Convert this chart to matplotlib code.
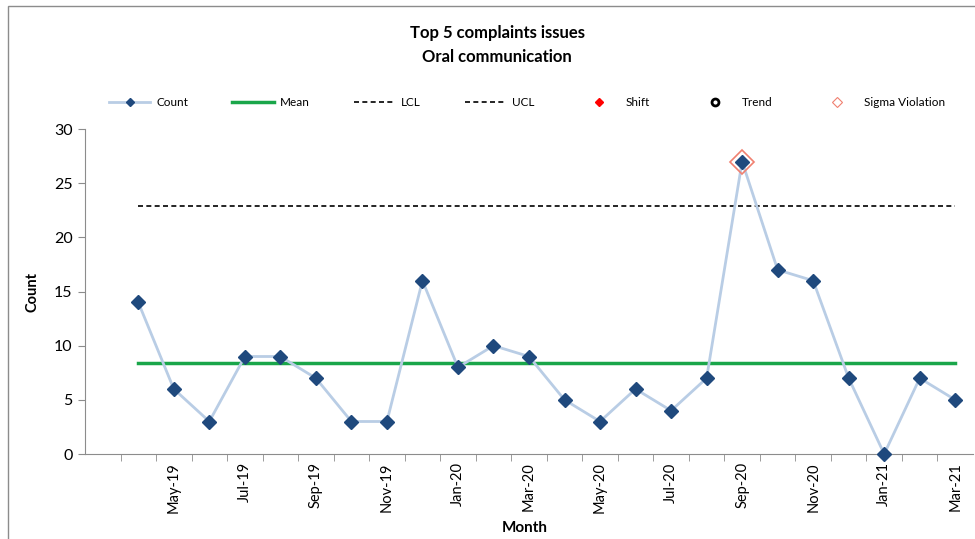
import numpy as np
import matplotlib.pyplot as plt
from matplotlib.lines import Line2D
from matplotlib.patches import Rectangle

plt.rcParams['font.family'] = ['Lato', 'DejaVu Sans']

# monthly counts Apr-19 .. Mar-21 (first category on the axis is empty)
months = ['Apr-19', 'May-19', 'Jun-19', 'Jul-19', 'Aug-19', 'Sep-19', 'Oct-19', 'Nov-19',
          'Dec-19', 'Jan-20', 'Feb-20', 'Mar-20', 'Apr-20', 'May-20', 'Jun-20', 'Jul-20',
          'Aug-20', 'Sep-20', 'Oct-20', 'Nov-20', 'Dec-20', 'Jan-21', 'Feb-21', 'Mar-21']
counts = [14, 6, 3, 9, 9, 7, 3, 3, 16, 8, 10, 9, 5, 3, 6, 4, 7, 27, 17, 16, 7, 0, 7, 5]
mean_val = 8.375
ucl_val = 22.9
lcl_val = -6.15
sigma_months = ['Sep-20']

cats = [''] + months
x = np.arange(1, len(months) + 1)

fig = plt.figure(figsize=(9.75, 5.39), dpi=100)
ax = fig.add_axes([85 / 975, 1 - 454 / 539, 888 / 975, 325 / 539])

# outer chart border
fig.patches.append(Rectangle((8 / 975, -0.2), 1.2, 1.2 - 6 / 539, transform=fig.transFigure,
                             fill=False, edgecolor='#8c8c8c', lw=1))

ax.plot(x, counts, color='#b9cde5', lw=2, marker='D', ms=7, mfc='#1f497d', mec='#1f497d',
        clip_on=False, zorder=4)
ax.plot(x, [mean_val] * len(x), color='#1aa64a', lw=2.5, zorder=3)
ax.plot(x, [lcl_val] * len(x), color='black', lw=1.2, ls=(0, (3, 2)), zorder=3)
ax.plot(x, [ucl_val] * len(x), color='black', lw=1.2, ls=(0, (3, 2)), zorder=3)

sx = [x[months.index(m)] for m in sigma_months]
sy = [counts[months.index(m)] for m in sigma_months]
ax.plot(sx, sy, ls='none', marker='D', ms=12, mfc='none', mec='#f08070', mew=1.2, zorder=5)

ax.set_xlim(-0.5, len(cats) - 0.5)
ax.set_ylim(0, 30)
ax.set_yticks(range(0, 31, 5))

major = [i for i in range(len(cats)) if i % 2 == 0 and i > 0]
ax.set_xticks(major)
ax.set_xticklabels([cats[i] for i in major], rotation=90)
ax.set_xticks(np.arange(0.5, len(cats) - 0.5, 1), minor=True)
ax.tick_params(axis='x', which='major', length=0, labelsize=10.5, pad=6)
ax.tick_params(axis='x', which='minor', length=5, color='#8c8c8c', direction='out')
ax.tick_params(axis='y', length=5, color='#8c8c8c', labelsize=11.5, pad=4)

for s in ['top', 'right']:
    ax.spines[s].set_visible(False)
for s in ['left', 'bottom']:
    ax.spines[s].set_color('#8c8c8c')

ax.set_ylabel('Count', fontsize=10.5, fontweight='bold', labelpad=10)
ax.set_xlabel('Month', fontsize=11, fontweight='bold', labelpad=2)
ax.xaxis.set_label_coords((525 - 85) / 888, -0.205)

fig.text(0.51, 1 - 33 / 539, 'Top 5 complaints issues', ha='center', va='center',
         fontsize=12, fontweight='bold')
fig.text(0.51, 1 - 57 / 539, 'Oral communication', ha='center', va='center',
         fontsize=12, fontweight='bold')

handles = [
    Line2D([], [], color='#b9cde5', lw=2, marker='D', ms=4, mfc='#1f497d', mec='#1f497d'),
    Line2D([], [], color='#1aa64a', lw=2.5),
    Line2D([], [], color='black', lw=1.2, ls=(0, (3, 2))),
    Line2D([], [], color='black', lw=1.2, ls=(0, (3, 2))),
    Line2D([], [], ls='none', marker='D', ms=4, color='red'),
    Line2D([], [], ls='none', marker='o', ms=5, mfc='none', mec='black', mew=2),
    Line2D([], [], ls='none', marker='D', ms=5, mfc='none', mec='#f08070', mew=0.8),
]
labels = ['Count', 'Mean', 'LCL', 'UCL', 'Shift', 'Trend', 'Sigma Violation']
fig.legend(handles, labels, loc='center', bbox_to_anchor=(527 / 975, 1 - 103 / 539), ncol=7,
           frameon=False, fontsize=8.5, handlelength=3.5, columnspacing=3.75, handletextpad=0.5)

fig.savefig('out.png', dpi=100)
